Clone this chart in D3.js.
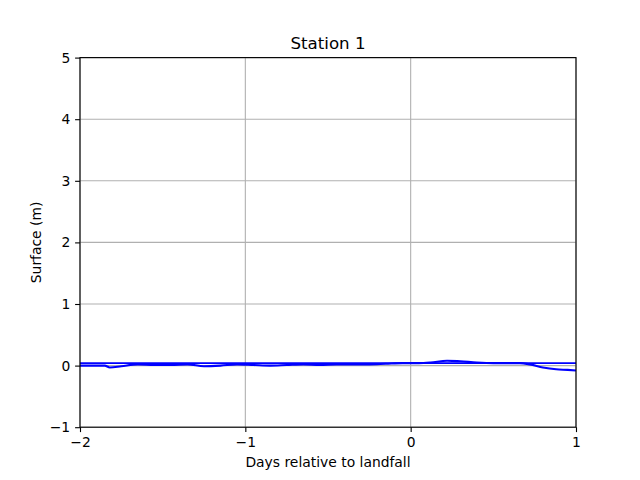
<!DOCTYPE html>
<html><head><meta charset="utf-8">
<script src="https://cdn.jsdelivr.net/npm/d3@7"></script>
<style>body{margin:0;background:#fff}svg{display:block}text{font-family:"DejaVu Sans",sans-serif}</style>
</head><body>
<script>
const days = [-2.0,-1.9,-1.85,-1.82,-1.75,-1.65,-1.55,-1.45,-1.35,-1.25,-1.15,-1.05,-0.95,-0.85,-0.75,-0.65,-0.55,-0.45,-0.35,-0.25,-0.15,-0.05,0.05,0.12,0.22,0.3,0.4,0.5,0.6,0.66,0.72,0.8,0.88,0.95,1.0];
const surface = [0.0,0.0,0.0,-0.03,-0.01,0.02,0.01,0.01,0.02,-0.01,0.0,0.02,0.01,0.0,0.01,0.02,0.01,0.02,0.02,0.02,0.03,0.04,0.04,0.05,0.08,0.07,0.05,0.04,0.04,0.04,0.02,-0.03,-0.06,-0.07,-0.08];
const refLevel = 0.04;
const xTicks = [-2,-1,0,1];
const yTicks = [-1,0,1,2,3,4,5];
const W=640,H=480,L=80,R=576,T=57.6,B=427.2;
const svg=d3.select("body").append("svg").attr("width",W).attr("height",H);
const x=d3.scaleLinear().domain([-2,1]).range([L,R]);
const y=d3.scaleLinear().domain([-1,5]).range([B,T]);
const fmt=d=>d<0?"\u2212"+Math.abs(d):String(d);
svg.append("g").selectAll("line").data(xTicks).join("line")
 .attr("x1",d=>x(d)).attr("x2",d=>x(d)).attr("y1",T).attr("y2",B)
 .attr("stroke","#b0b0b0").attr("stroke-width",1.1);
svg.append("g").selectAll("line").data(yTicks).join("line")
 .attr("y1",d=>y(d)).attr("y2",d=>y(d)).attr("x1",L).attr("x2",R)
 .attr("stroke","#b0b0b0").attr("stroke-width",1.1);
svg.append("line").attr("x1",x(-2)).attr("x2",x(1)).attr("y1",y(refLevel)).attr("y2",y(refLevel))
 .attr("stroke","#0000ff").attr("stroke-width",1.6);
svg.append("path").datum(days.map((d,i)=>[d,surface[i]]))
 .attr("fill","none").attr("stroke","#0000ff").attr("stroke-width",2.08)
 .attr("d",d3.line().x(d=>x(d[0])).y(d=>y(d[1])).curve(d3.curveMonotoneX));
const xa=svg.append("g").attr("transform",`translate(0,${B})`)
 .call(d3.axisBottom(x).tickValues(xTicks).tickFormat(fmt).tickSize(4.9).tickPadding(4.9));
const ya=svg.append("g").attr("transform",`translate(${L},0)`)
 .call(d3.axisLeft(y).tickValues(yTicks).tickFormat(fmt).tickSize(4.9).tickPadding(4.9));
[xa,ya].forEach(a=>{a.select(".domain").remove();a.selectAll("text").attr("font-size",13.89).attr("fill","#000").attr("font-family","DejaVu Sans");a.selectAll("line").attr("stroke","#000").attr("stroke-width",1.1);});
svg.append("rect").attr("x",L).attr("y",T).attr("width",R-L).attr("height",B-T)
 .attr("fill","none").attr("stroke","#000").attr("stroke-width",1.1);
svg.append("text").attr("x",(L+R)/2).attr("y",T-8.3).attr("text-anchor","middle").attr("font-size",16.67).text("Station 1");
svg.append("text").attr("x",(L+R)/2).attr("y",467).attr("text-anchor","middle").attr("font-size",13.89).text("Days relative to landfall");
svg.append("text").attr("transform",`translate(41,${(T+B)/2}) rotate(-90)`).attr("text-anchor","middle").attr("font-size",13.89).text("Surface (m)");
</script>
</body></html>
